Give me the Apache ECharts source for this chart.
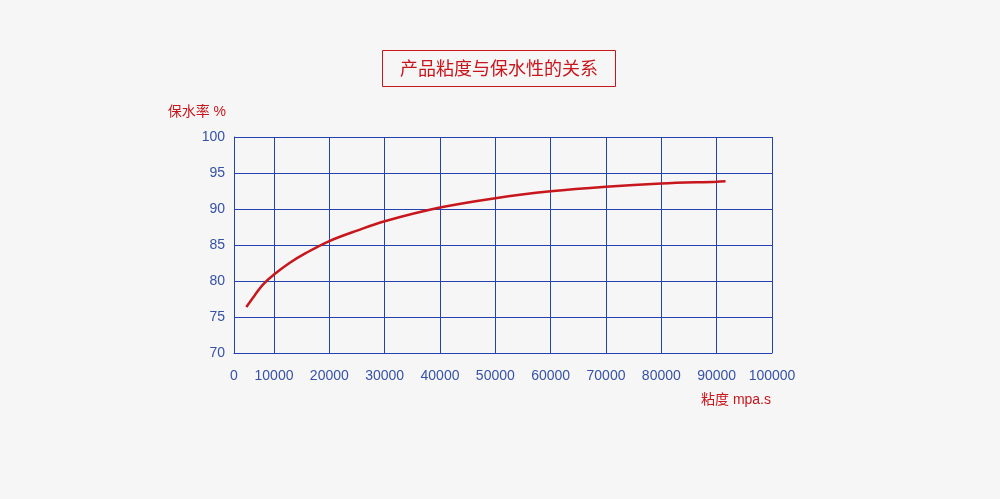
<!DOCTYPE html>
<html><head><meta charset="utf-8">
<script src="https://cdn.jsdelivr.net/npm/echarts@6/dist/echarts.min.js"></script>
<style>html,body{margin:0;padding:0;background:#f6f6f6;}#c{width:1000px;height:499px;}</style>
</head><body><div id="c"></div>
<script>
const titleText = '产品粘度与保水性的关系';
const yName = '保水率 %';
const xName = '粘度 mpa.s';
// viscosity (mpa.s) vs water retention (%)
const viscosity = [5000, 6500, 8000, 10000, 12800, 15800, 20000, 25000, 30000, 40000, 50000, 60000, 70000, 80000, 90000, 91600];
const retention = [76.4, 78.0, 79.5, 80.9, 82.5, 83.9, 85.55, 87.0, 88.3, 90.2, 91.5, 92.45, 93.1, 93.55, 93.8, 93.85];
const xMinShown = 2770; // axis starts a little right of 0 (label shows "0")
const xTicks = [2770, 10000, 20000, 30000, 40000, 50000, 60000, 70000, 80000, 90000, 100000];
const xMax = 100000;
const yMin = 70, yMax = 100, yStep = 5;

const blue = '#2443b0', labelBlue = '#3652a8', red = '#c8161d';
const chart = echarts.init(document.getElementById('c'));
chart.setOption({
  backgroundColor: '#f6f6f6',
  animation: false,
  title: {
    text: titleText, left: 382, top: 50,
    borderColor: red, borderWidth: 1, padding: [9, 18, 10, 18],
    textStyle: { color: red, fontSize: 18, fontWeight: 'normal', fontFamily: '"Noto Sans CJK SC", sans-serif' }
  },
  grid: { left: 234, right: 228, top: 137, bottom: 146, containLabel: false },
  xAxis: {
    type: 'value', min: xMinShown, max: xMax,
    name: xName, nameLocation: 'end', nameGap: -1,
    nameTextStyle: { color: red, fontSize: 14, align: 'right', verticalAlign: 'top', padding: [40, 0, 0, 0], fontFamily: '"Liberation Sans", "Noto Sans CJK SC", sans-serif' },
    axisLine: { show: true, lineStyle: { color: blue, width: 1 } },
    axisTick: { show: false, customValues: xTicks },
    axisLabel: { color: labelBlue, fontSize: 14, margin: 16, fontFamily: '"Liberation Sans", sans-serif',
      customValues: xTicks,
      formatter: v => (v === xMinShown ? '0' : String(v)) },
    splitLine: { show: true, lineStyle: { color: blue, width: 1 } }
  },
  yAxis: {
    type: 'value', min: yMin, max: yMax, interval: yStep,
    name: yName, nameLocation: 'end', nameGap: 18,
    nameTextStyle: { color: red, fontSize: 14, align: 'right', padding: [0, 8, 0, 0], fontFamily: '"Liberation Sans", "Noto Sans CJK SC", sans-serif' },
    axisLine: { show: true, lineStyle: { color: blue, width: 1 } },
    axisTick: { show: false },
    axisLabel: { color: labelBlue, fontSize: 14, margin: 9, fontFamily: '"Liberation Sans", sans-serif' },
    splitLine: { show: true, lineStyle: { color: blue, width: 1 } }
  },
  series: [{
    type: 'line', smooth: 0.35, showSymbol: false,
    data: viscosity.map((v, i) => [v, retention[i]]),
    lineStyle: { color: red, width: 2.5 }
  }]
});
</script></body></html>
